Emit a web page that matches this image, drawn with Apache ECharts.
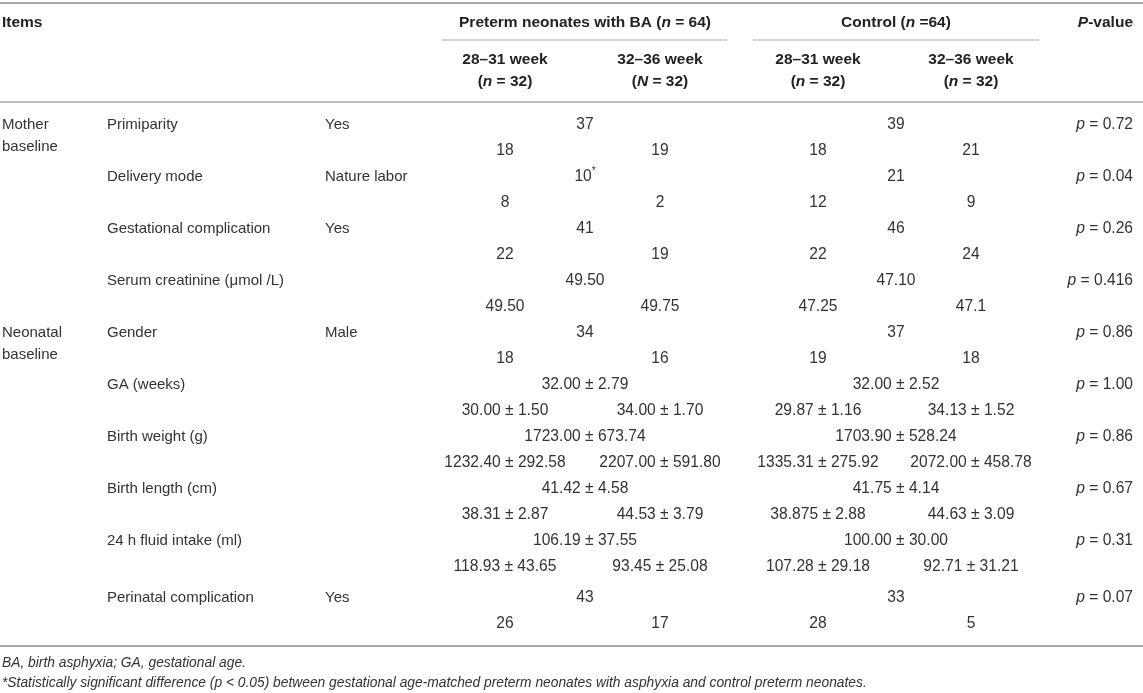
<!DOCTYPE html>
<html><head><meta charset="utf-8">
<script src="https://cdn.jsdelivr.net/npm/echarts@6/dist/echarts.min.js"></script>
<style>html,body{margin:0;padding:0;background:#fff}#c{width:1143px;height:693px}</style>
</head><body><div id="c"></div>
<script>
// ---------- DATA ----------
const groupLabels = ['Mother\nbaseline', 'Neonatal\nbaseline'];
const groupStartRow = [0, 4];
const items = ['Primiparity', 'Delivery mode', 'Gestational complication', 'Serum creatinine (\u03bcmol /L)', 'Gender', 'GA (weeks)', 'Birth weight (g)', 'Birth length (cm)', '24 h fluid intake (ml)', 'Perinatal complication'];
const levels = ['Yes', 'Nature labor', 'Yes', '', 'Male', '', '', '', '', 'Yes'];
const baTotal = ['37', '10*', '41', '49.50', '34', '32.00 \u00b1 2.79', '1723.00 \u00b1 673.74', '41.42 \u00b1 4.58', '106.19 \u00b1 37.55', '43'];
const ba2831 = ['18', '8', '22', '49.50', '18', '30.00 \u00b1 1.50', '1232.40 \u00b1 292.58', '38.31 \u00b1 2.87', '118.93 \u00b1 43.65', '26'];
const ba3236 = ['19', '2', '19', '49.75', '16', '34.00 \u00b1 1.70', '2207.00 \u00b1 591.80', '44.53 \u00b1 3.79', '93.45 \u00b1 25.08', '17'];
const ctrlTotal = ['39', '21', '46', '47.10', '37', '32.00 \u00b1 2.52', '1703.90 \u00b1 528.24', '41.75 \u00b1 4.14', '100.00 \u00b1 30.00', '33'];
const ctrl2831 = ['18', '12', '22', '47.25', '19', '29.87 \u00b1 1.16', '1335.31 \u00b1 275.92', '38.875 \u00b1 2.88', '107.28 \u00b1 29.18', '28'];
const ctrl3236 = ['21', '9', '24', '47.1', '18', '34.13 \u00b1 1.52', '2072.00 \u00b1 458.78', '44.63 \u00b1 3.09', '92.71 \u00b1 31.21', '5'];
const pValues = ['0.72', '0.04', '0.26', '0.416', '0.86', '1.00', '0.86', '0.67', '0.31', '0.07'];

const headItems = 'Items';
const headBA = 'Preterm neonates with BA ({bi|n} = 64)';
const headCtrl = 'Control ({bi|n} =64)';
const headP = '{bi|P}-value';
const subHeads = [['28\u201331 week', '({bi|n} = 32)'], ['32\u201336 week', '({bi|N} = 32)'], ['28\u201331 week', '({bi|n} = 32)'], ['32\u201336 week', '({bi|n} = 32)']];
const footnotes = ['BA, birth asphyxia; GA, gestational age.', '*Statistically significant difference (p < 0.05) between gestational age-matched preterm neonates with asphyxia and control preterm neonates.'];

// ---------- LAYOUT ----------
const W = 1143, H = 693;
const FONT = '"Liberation Sans", Arial, Helvetica, sans-serif';
const L = {
  x: { group: 2, item: 107, level: 325, baTot: 585, ba1: 505, ba2: 660, ctTot: 896, ct1: 818, ct2: 971, pRight: 1133, foot: 2 },
  headY: 23, subHeadY: [60, 82],
  rowY: [125, 177, 229, 281, 333, 385, 437, 489, 541, 598],
  subDy: 26,
  footY: [663, 683],
  rules: [[0, 1143, 3, 2], [442, 727, 40, 1.2], [753, 1039, 40, 1.2], [0, 1143, 102, 1.5], [0, 1143, 646, 2]]
};
const STY = {
  body: { size: 15, weight: 'normal', style: 'normal', fill: '#333', lh: 22 },
  num: { size: 15.6, weight: 'normal', style: 'normal', fill: '#333', lh: 22 },
  head: { size: 15.5, weight: 'bold', style: 'normal', fill: '#222', lh: 22 },
  foot: { size: 13.8, weight: 'normal', style: 'italic', fill: '#333', lh: 18 }
};

// ---------- BUILD CELLS ----------
const cells = [];
function add(x, y, text, align, kind, va) { cells.push({ x, y, text, align, kind: kind || 'body', va: va || 'middle' }); }
const sup = s => s.replace(/\*$/, '{sup|*}');

add(L.x.group, L.headY, headItems, 'left', 'head');
add(L.x.baTot, L.headY, headBA, 'center', 'head');
add(L.x.ctTot, L.headY, headCtrl, 'center', 'head');
add(L.x.pRight, L.headY, headP, 'right', 'head');
const subX = [L.x.ba1, L.x.ba2, L.x.ct1, L.x.ct2];
subHeads.forEach((s, i) => { add(subX[i], L.subHeadY[0], s[0], 'center', 'head'); add(subX[i], L.subHeadY[1], s[1], 'center', 'head'); });

groupLabels.forEach((g, i) => add(L.x.group, L.rowY[groupStartRow[i]] - 11, g, 'left', 'body', 'top'));
items.forEach((it, i) => {
  const y = L.rowY[i], y2 = y + L.subDy;
  add(L.x.item, y, it, 'left');
  if (levels[i]) add(L.x.level, y, levels[i], 'left');
  add(L.x.baTot, y, sup(baTotal[i]), 'center', 'num');
  add(L.x.ctTot, y, sup(ctrlTotal[i]), 'center', 'num');
  add(L.x.pRight, y, '{i|p} = ' + pValues[i], 'right', 'num');
  add(L.x.ba1, y2, ba2831[i], 'center', 'num');
  add(L.x.ba2, y2, ba3236[i], 'center', 'num');
  add(L.x.ct1, y2, ctrl2831[i], 'center', 'num');
  add(L.x.ct2, y2, ctrl3236[i], 'center', 'num');
});
footnotes.forEach((f, i) => add(L.x.foot, L.footY[i], f, 'left', 'foot'));

function richFor(st) {
  const base = { fontSize: st.size, fontFamily: FONT, fill: st.fill, lineHeight: st.lh };
  return {
    i: Object.assign({}, base, { fontStyle: 'italic', fontWeight: st.weight }),
    bi: Object.assign({}, base, { fontStyle: 'italic', fontWeight: 'bold' }),
    sup: Object.assign({}, base, { fontSize: 10, lineHeight: 10, verticalAlign: 'top', fontWeight: st.weight })
  };
}

const chart = echarts.init(document.getElementById('c'), null, { renderer: 'canvas' });
chart.setOption({
  animation: false,
  backgroundColor: '#fff',
  grid: { left: 0, right: 0, top: 0, bottom: 0 },
  xAxis: { type: 'value', min: 0, max: W, show: false },
  yAxis: { type: 'value', min: 0, max: H, inverse: true, show: false },
  series: [
    {
      type: 'custom', silent: true, clip: false,
      encode: { x: [0, 2], y: 1 },
      data: L.rules.map(r => [r[0], r[2], r[1], r[3]]),
      renderItem: function (params, api) {
        const p1 = api.coord([api.value(0), api.value(1)]);
        const p2 = api.coord([api.value(2), api.value(1)]);
        return { type: 'line', shape: { x1: p1[0], y1: p1[1], x2: p2[0], y2: p2[1] }, style: { stroke: '#a8a8a8', lineWidth: api.value(3) } };
      }
    },
    {
      type: 'custom', silent: true, clip: false,
      encode: { x: 0, y: 1 },
      data: cells.map(c => [c.x, c.y]),
      renderItem: function (params, api) {
        const c = cells[params.dataIndex];
        const st = STY[c.kind];
        const p = api.coord([api.value(0), api.value(1)]);
        return {
          type: 'text', x: p[0], y: p[1],
          style: {
            text: c.text, fill: st.fill, fontSize: st.size, fontFamily: FONT,
            fontWeight: st.weight, fontStyle: st.style, lineHeight: st.lh,
            align: c.align, verticalAlign: c.va,
            rich: richFor(st)
          }
        };
      }
    }
  ]
});
</script></body></html>
